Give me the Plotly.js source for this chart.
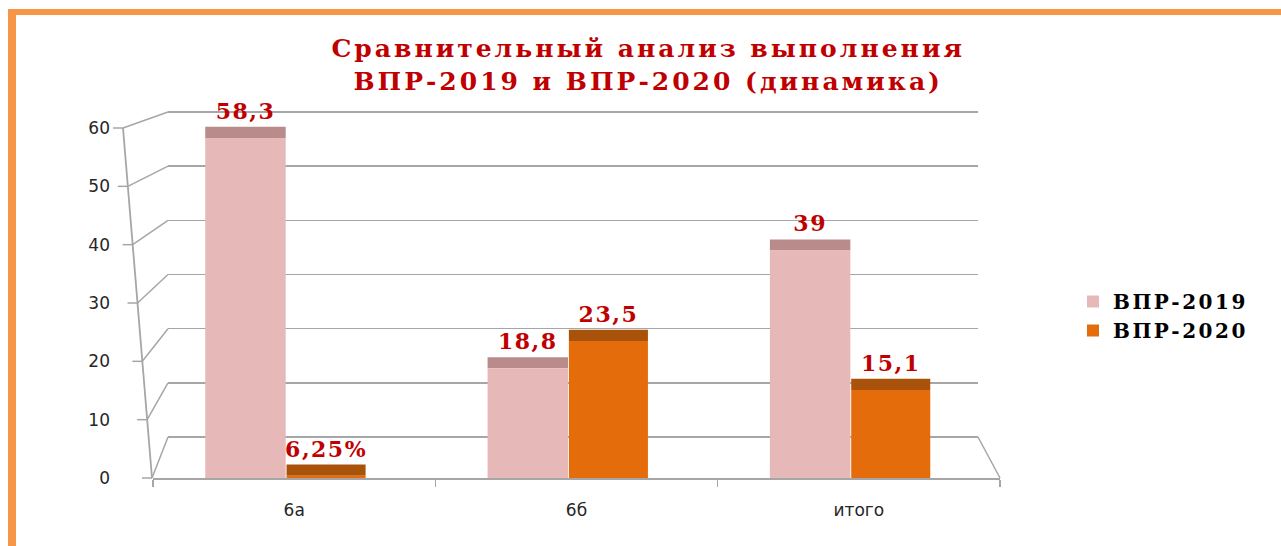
<!DOCTYPE html>
<html>
<head>
<meta charset="utf-8">
<script src="https://cdn.plot.ly/plotly-3.0.1.min.js"></script>
<style>
  html, body { margin: 0; padding: 0; background: #ffffff; }
  #wrap { position: relative; width: 1281px; height: 546px; overflow: hidden; }
  #chart { position: absolute; left: 0; top: 0; width: 1281px; height: 546px; }
  #frame { position: absolute; left: 8px; top: 9px; width: 1400px; height: 700px;
           border-left: 8px solid #F79646; border-top: 6px solid #F79646; pointer-events: none; }
  .gtitle { letter-spacing: 3px; }
  .legendtext { letter-spacing: 2.5px; }
  .bartext { letter-spacing: 1.5px; }
</style>
</head>
<body>
<div id="wrap">
  <div id="chart"></div>
  <div id="frame"></div>
</div>
<script>
// ---- data ----
const categories = ['6а', '6б', 'итого'];
const vpr2019 = [58.3, 18.8, 39];
const vpr2020 = [0.4, 23.5, 15.1];
const labels2019 = ['58,3', '18,8', '39'];
const labels2020 = ['6,25%', '23,5', '15,1'];
const seriesNames = ['ВПР-2019', 'ВПР-2020'];
const yTickValues = [0, 10, 20, 30, 40, 50, 60];

// ---- styling / geometry ----
const W = 1281, H = 546;
const M = { l: 153, r: 281, t: 100, b: 68 };
const plotW = W - M.l - M.r, plotH = H - M.t - M.b;
const frontScale = 350 / 60;          // px per unit on the front (bars)
const backScale = 325 / 60;           // px per unit on the back wall
const backZeroPx = 437;               // back wall floor line (page px)
const yMax = plotH / frontScale;
const yBackMax = (backZeroPx - M.t) / backScale;
const backLeftPx = 168, backRightPx = 978;
const DEPTH = 1.9;                    // top-face thickness in value units

const pinkFront = '#E6B9B8', pinkTop = '#B98C8B';
const orangeFront = '#E46C0A', orangeTop = '#A9520A';
const labelRed = '#C00000';
const gridGray = '#A6A6A6';

const px2x = px => (px - M.l) / plotW;
const py2y = py => (H - M.b - py) / plotH;

const serifBold = { family: 'DejaVu Serif, Liberation Serif, serif', weight: 'bold' };

// bars live on the front axes (x2 / y2), drawn above the back-wall grid (x / y)
function topTrace(vals, labels, offset, width, color) {
  return {
    type: 'bar', x: categories, y: vals.map(() => DEPTH), base: vals,
    xaxis: 'x2', yaxis: 'y2',
    offset: offset, width: width,
    marker: { color: color, line: { width: 0 } },
    text: labels, textposition: 'outside', constraintext: 'none', cliponaxis: false,
    textfont: Object.assign({ size: 22, color: labelRed }, serifBold),
    showlegend: false, hoverinfo: 'skip'
  };
}
function frontTrace(vals, name, offset, width, color) {
  return {
    type: 'bar', name: name, x: categories, y: vals,
    xaxis: 'x2', yaxis: 'y2',
    offset: offset, width: width,
    marker: { color: color, line: { width: 0 } },
    hoverinfo: 'x+y+name'
  };
}

const data = [
  // carrier for the back-wall grid (no visible mark)
  { type: 'scatter', x: [0.5], y: [0], xaxis: 'x', yaxis: 'y', mode: 'markers',
    marker: { opacity: 0 }, showlegend: false, hoverinfo: 'skip' },
  topTrace(vpr2019, labels2019, -0.315, 0.285, pinkTop),
  topTrace(vpr2020, labels2020, -0.027, 0.28, orangeTop),
  frontTrace(vpr2019, seriesNames[0], -0.315, 0.285, pinkFront),
  frontTrace(vpr2020, seriesNames[1], -0.027, 0.28, orangeFront)
];

// decorative perspective lines (slanted axis, tick connectors, floor edge)
const shapes = [];
const axTopX = 123, axBotX = 152;
const frontX = v => axBotX + (axTopX - axBotX) * v / 60;
const frontY = v => (H - M.b) - frontScale * v;
const backY = v => backZeroPx - backScale * v;
shapes.push({ type: 'line', xref: 'paper', yref: 'paper',
  x0: px2x(frontX(0)), y0: py2y(frontY(0)), x1: px2x(frontX(60)), y1: py2y(frontY(60)),
  line: { color: gridGray, width: 1.8 }, layer: 'below' });
yTickValues.forEach(v => {
  shapes.push({ type: 'line', xref: 'paper', yref: 'paper',
    x0: px2x(frontX(v) - 10), y0: py2y(frontY(v)), x1: px2x(frontX(v)), y1: py2y(frontY(v)),
    line: { color: gridGray, width: 1.5 }, layer: 'below' });
  shapes.push({ type: 'line', xref: 'paper', yref: 'paper',
    x0: px2x(frontX(v)), y0: py2y(frontY(v)), x1: px2x(backLeftPx), y1: py2y(backY(v)),
    line: { color: gridGray, width: 1.5 }, layer: 'below' });
});
shapes.push({ type: 'line', xref: 'paper', yref: 'paper',
  x0: px2x(backRightPx), y0: py2y(backY(0)), x1: 1, y1: 0,
  line: { color: gridGray, width: 1.5 }, layer: 'below' });

const tickFont = { family: 'DejaVu Sans, Verdana, sans-serif', size: 17, color: '#262626' };

const layout = {
  width: W, height: H,
  margin: M,
  paper_bgcolor: 'rgba(0,0,0,0)', plot_bgcolor: 'rgba(0,0,0,0)',
  barmode: 'overlay',
  title: {
    text: 'Сравнительный анализ выполнения<br>ВПР-2019 и ВПР-2020 (динамика)',
    font: Object.assign({ size: 25, color: labelRed }, serifBold),
    x: 0.506, xref: 'container', xanchor: 'center',
    y: 1 - 57 / H, yref: 'container', yanchor: 'middle'
  },
  // back wall (grid only)
  xaxis: {
    domain: [px2x(backLeftPx), px2x(backRightPx)], range: [0, 1], anchor: 'y',
    showticklabels: false, showline: false, showgrid: false, zeroline: false, ticks: '',
    fixedrange: true
  },
  yaxis: {
    domain: [py2y(backZeroPx), 1], range: [0, yBackMax], anchor: 'x',
    tickvals: yTickValues, showticklabels: false, ticks: '',
    showgrid: true, gridcolor: gridGray, gridwidth: 1.5, zeroline: true,
    zerolinecolor: gridGray, zerolinewidth: 1.5, showline: false, fixedrange: true
  },
  // front (bars, category axis, value labels)
  xaxis2: {
    type: 'category', range: [-0.5, 2.5], domain: [0, 1], anchor: 'y2',
    showline: true, linecolor: gridGray, linewidth: 1.8,
    ticks: 'outside', tickson: 'boundaries', ticklen: 7, tickcolor: gridGray, tickwidth: 1.5,
    ticklabelstandoff: 16, tickfont: tickFont,
    showgrid: false, zeroline: false, fixedrange: true
  },
  yaxis2: {
    range: [0, yMax], domain: [0, 1], anchor: 'x2',
    tickvals: yTickValues, ticktext: yTickValues.map(String),
    showline: false, ticks: '', showgrid: false, zeroline: false,
    ticklabelstandoff: 42, tickfont: tickFont, fixedrange: true
  },
  legend: {
    x: 1073 / W, xref: 'container', xanchor: 'left',
    y: 1 - 316 / H, yref: 'container', yanchor: 'middle',
    font: Object.assign({ size: 20, color: '#000000' }, serifBold),
    bgcolor: 'rgba(0,0,0,0)', tracegroupgap: 4, itemwidth: 30
  },
  shapes: shapes
};

Plotly.newPlot('chart', data, layout, { displayModeBar: false, staticPlot: true });
</script>
</body>
</html>
